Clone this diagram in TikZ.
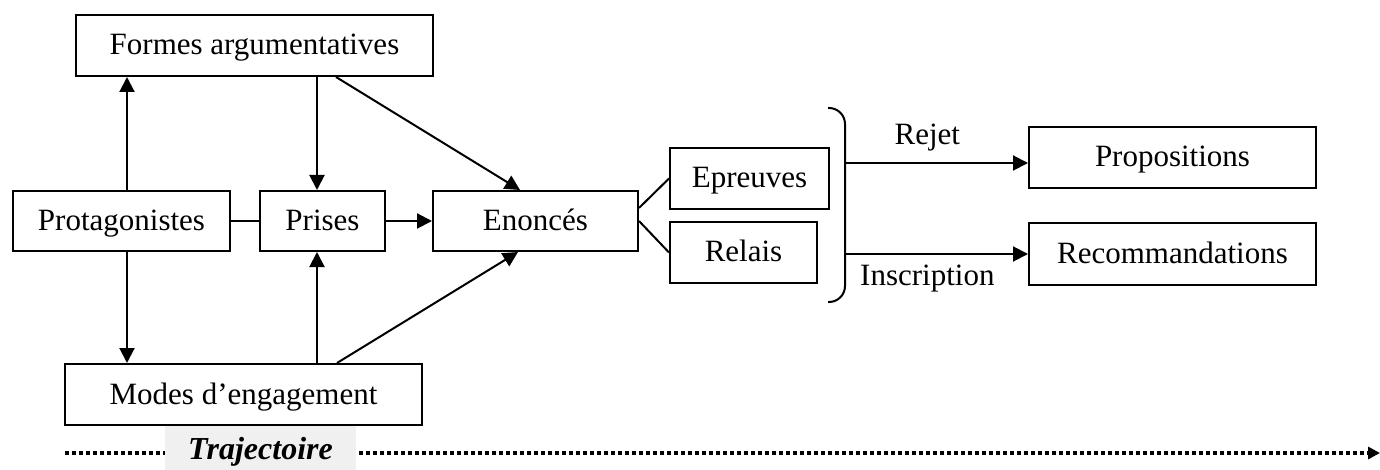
\documentclass[tikz,border=0pt]{standalone}
\usepackage{fontspec}
\setmainfont{Liberation Serif}
\usetikzlibrary{arrows.meta}

\begin{document}
\begin{tikzpicture}[
  x=0.5pt, y=-0.5pt,
  font=\fontsize{15.5}{18}\selectfont,
  box/.style   = {draw, line width=1pt, inner sep=0pt, minimum height=30.5pt,
                  text height=9.5pt, text depth=0pt},
  flow/.style  = {-{Triangle[length=7.5pt,width=7.5pt]}, line width=1pt},
  link/.style  = {line width=1pt},
  traj/.style  = {-{Triangle[length=6pt,width=6pt]}, line width=2pt,
                  dash pattern=on 1.9pt off 1.6pt},
  tlabel/.style = {fill=black!6, inner sep=0pt, minimum width=95.5pt,
                   minimum height=26pt, font=\fontsize{16}{18}\selectfont\bfseries\itshape},
]
\useasboundingbox (0,0) rectangle (1380,470);

% ---------- left block ----------
\node[box, minimum width=178.5pt] (formes) at (254.5,45.5)  {Formes argumentatives};
\node[box, minimum width=108.5pt, minimum height=30pt] (prot)   at (121.5,221)  {Protagonistes};
\node[box, minimum width=62.5pt,  minimum height=30pt] (prises) at (322.5,221)  {Prises};
\node[box, minimum width=102.5pt, minimum height=30pt] (enonces) at (535.5,221) {Enoncés};
\node[box, minimum width=178.5pt] (modes)  at (243.5,394.5) {Modes d’engagement};

\draw[flow] ([xshift=2.75pt]prot.north) -- ([xshift=2.75pt]prot.north |- formes.south);
\draw[flow] ([xshift=2.75pt]prot.south) -- ([xshift=2.75pt]prot.south |- modes.north);
\draw[link] (prot) -- (prises);
\draw[flow] (prises) -- (enonces);
\draw[flow] ([xshift=-2.75pt]prises.north |- formes.south) -- ([xshift=-2.75pt]prises.north);
\draw[flow] ([xshift=-2.75pt]prises.south |- modes.north) -- ([xshift=-2.75pt]prises.south);
\draw[flow] ([xshift=40.75pt]formes.south) -- ([xshift=-7.75pt]enonces.north);
\draw[flow] ([xshift=46.75pt]modes.north) -- ([xshift=-8.75pt]enonces.south);

% ---------- tests ----------
\node[box, minimum width=79.5pt] (epreuves) at (749.5,178.5) {Epreuves};
\node[box, minimum width=73.5pt] (relais)   at (743.5,252.5) {Relais};

\draw[link] ([yshift=6.5pt]enonces.east) -- (epreuves.west);
\draw[link] (enonces.east) -- (relais.west);

% ---------- outcomes ----------
\draw[link, rounded corners=8pt] (828,108) -| (845,205) |- (828,302);
\coordinate (brace) at (845,205);

\node[box, minimum width=143.5pt] (props) at (1172.5,157.5) {Propositions};
\node[box, minimum width=143.5pt] (recos) at (1172.5,254)   {Recommandations};

\draw[flow] (brace |- 0,163) -- (props.west |- 0,163)
      node[pos=0.45, above=2pt] {Rejet};
\draw[flow] (brace |- recos.west) -- (recos.west)
      node[pos=0.45, below=1.5pt] {Inscription};

% ---------- trajectory ----------
\coordinate (tstart) at (65,453);
\coordinate (tend)   at (1380,453);
\draw[traj] (tstart) -- (tend);
\node[tlabel] (trajlbl) at (260.5,452) {Trajectoire};

\end{tikzpicture}
\end{document}
